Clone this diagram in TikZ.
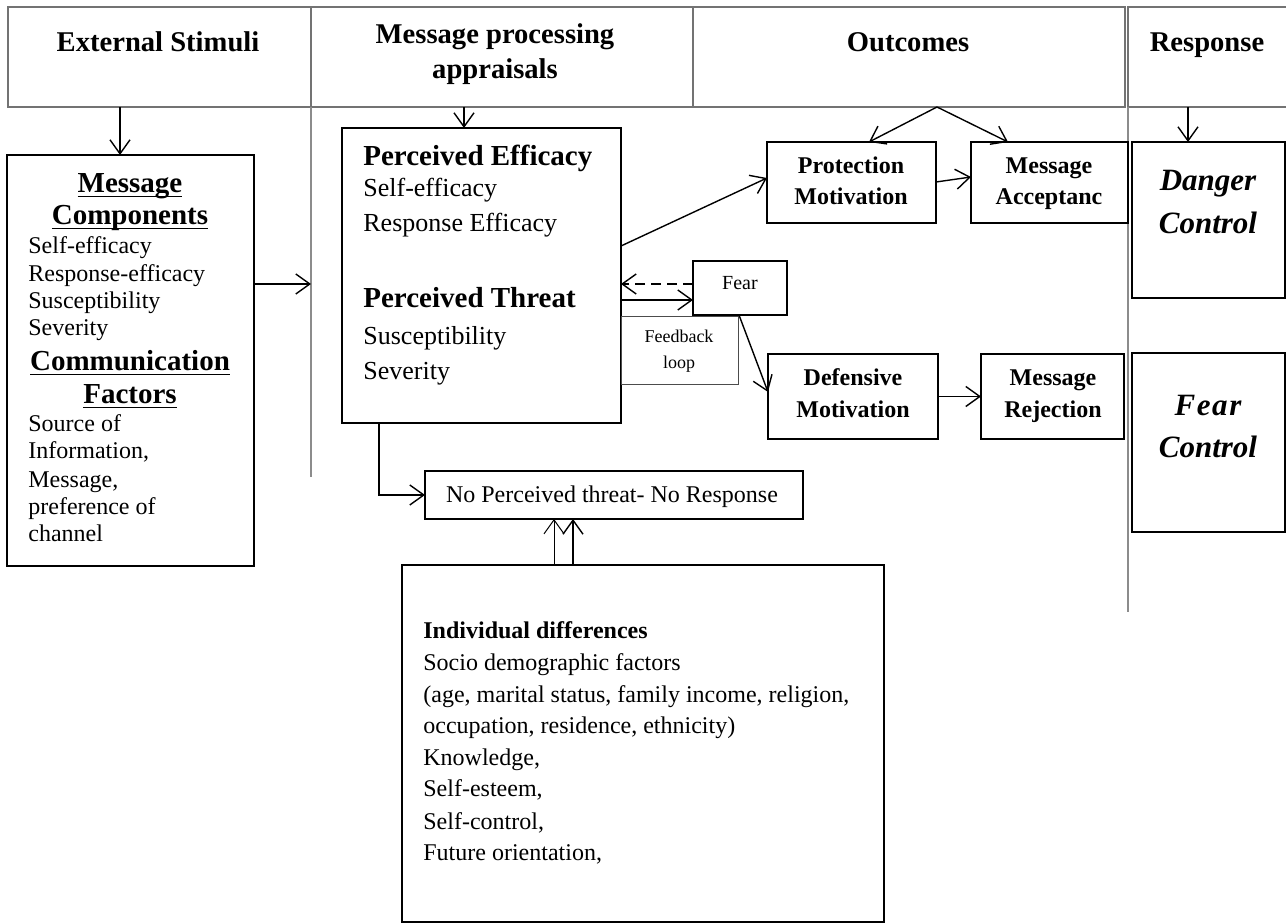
\documentclass[tikz,border=0pt]{standalone}
\usepackage{fontspec}
\setmainfont{Liberation Serif}
\usetikzlibrary{arrows.meta,calc}
\newcommand\myul[1]{\begingroup\setbox0\hbox{#1}\rlap{\rule[-2.6pt]{\wd0}{0.9pt}}\box0\endgroup}
\begin{document}
\begin{tikzpicture}[x=0.5pt,y=-0.5pt,
  box/.style={draw, line width=1pt, inner sep=0pt, outer sep=0pt},
  hbox/.style={draw=black!55, line width=0.6pt, inner sep=0pt, outer sep=0pt},
  fbbox/.style={draw=black!70, line width=0.5pt, inner sep=0pt, outer sep=0pt},
  gline/.style={draw=black!45, line width=0.8pt},
  arr/.style={-{Straight Barb[length=7pt,width=10pt]}, line width=0.7pt},
  hd/.style={inner sep=0pt, font=\bfseries\fontsize{14.3pt}{17pt}\selectfont, text height=10pt, text depth=3pt},
  bt/.style={inner sep=0pt, font=\bfseries\fontsize{14.5pt}{17pt}\selectfont, text height=10.2pt, text depth=3pt},
  rt/.style={inner sep=0pt, font=\fontsize{12pt}{14pt}\selectfont, text height=8.4pt, text depth=2.4pt},
  rtb/.style={inner sep=0pt, font=\fontsize{13pt}{15pt}\selectfont, text height=9.1pt, text depth=2.6pt},
  bx/.style={inner sep=0pt, font=\bfseries\fontsize{12pt}{14pt}\selectfont, text height=8.4pt, text depth=2.4pt},
  bi/.style={inner sep=0pt, font=\bfseries\itshape\fontsize{15.5pt}{18pt}\selectfont, text height=10.9pt, text depth=3.1pt},
  sm/.style={inner sep=0pt, font=\fontsize{10pt}{12pt}\selectfont, text height=7pt, text depth=2pt},
  xs/.style={inner sep=0pt, font=\fontsize{9pt}{11pt}\selectfont, text height=6.3pt, text depth=1.8pt}
]
\useasboundingbox (0,0) rectangle (1286,924);

% header row
\node[hbox, minimum width=151.5pt, minimum height=50pt] (h1) at (159.5,57) {};
\node[hbox, minimum width=191pt, minimum height=50pt] (h2) at (502,57) {};
\node[hbox, minimum width=216pt, minimum height=50pt] (h3) at (909,57) {};
\node[hbox, minimum width=81pt, minimum height=50pt] (h4) at (1209,57) {};
\node[hd] (h1t) at (158,45) {External Stimuli};
\node[hd] (h2ta) at (495,37) {Message processing};
\node[hd] (h2tb) at (495,72) {appraisals};
\node[hd] (h3t) at (908,45) {Outcomes};
\node[hd] (h4t) at (1207,45) {Response};

% gray column lines
\coordinate (g1top) at (311,107); \coordinate (g1bot) at (311,477);
\coordinate (g2top) at (1128,107); \coordinate (g2bot) at (1128,612);
\draw[gline] (g1top) -- (g1bot);
\draw[gline] (g2top) -- (g2bot);

% Message components box
\node[box, minimum width=123.5pt, minimum height=205.5pt] (mc) at (130.5,360.5) {};
\node[bt] (mct1) at (130,185) {\myul{Message}};
\node[bt] (mct2) at (130,217) {\myul{Components}};
\node[bt] (mct3) at (130,363) {\myul{Communication}};
\node[bt] (mct4) at (130,396) {\myul{Factors}};
\node[rt, anchor=west] (mcl1) at (28,248) {Self-efficacy};
\node[rt, anchor=west] (mcl2) at (28,276) {Response-efficacy};
\node[rt, anchor=west] (mcl3) at (28,303) {Susceptibility};
\node[rt, anchor=west] (mcl4) at (28,330) {Severity};
\node[rt, anchor=west] (mcl5) at (28,426) {Source of};
\node[rt, anchor=west] (mcl6) at (28,453) {Information,};
\node[rt, anchor=west] (mcl7) at (28,482) {Message,};
\node[rt, anchor=west] (mcl8) at (28,509) {preference of};
\node[rt, anchor=west] (mcl9) at (28,536) {channel};

% Perceived box
\node[box, minimum width=139.5pt, minimum height=147.5pt] (pe) at (481.5,275.5) {};
\node[bt, anchor=west] (pet1) at (363,158) {Perceived Efficacy};
\node[rtb, anchor=west] (pel1) at (363,190) {Self-efficacy};
\node[rtb, anchor=west] (pel2) at (363,225) {Response Efficacy};
\node[bt, anchor=west] (pet2) at (363,300) {Perceived Threat};
\node[rtb, anchor=west] (pel3) at (363,338) {Susceptibility};
\node[rtb, anchor=west] (pel4) at (363,373) {Severity};

% Outcome boxes
\node[box, minimum width=84.5pt, minimum height=40.5pt] (pm) at (851.5,182.5) {};
\node[bx] (pmt1) at (851,168) {Protection};
\node[bx] (pmt2) at (851,199) {Motivation};
\node[box, minimum width=78.5pt, minimum height=40.5pt] (ma) at (1049.5,182.5) {};
\node[bx] (mat1) at (1049,168) {Message};
\node[bx] (mat2) at (1049,199) {Acceptanc};
\node[box, minimum width=85pt, minimum height=42.5pt] (dm) at (853,396.5) {};
\node[bx] (dmt1) at (853,380) {Defensive};
\node[bx] (dmt2) at (853,412) {Motivation};
\node[box, minimum width=71.5pt, minimum height=42.5pt] (mr) at (1052.5,396.5) {};
\node[bx] (mrt1) at (1053,380) {Message};
\node[bx] (mrt2) at (1053,412) {Rejection};

% Fear and feedback
\node[box, minimum width=47pt, minimum height=27pt] (fear) at (740,288) {};
\node[sm] (feart) at (740,285) {Fear};
\node[fbbox, minimum width=58.5pt, minimum height=34pt] (fb) at (679.5,351) {};
\node[xs] (fbt1) at (679,338) {Feedback};
\node[xs] (fbt2) at (679,364) {loop};

% No perceived threat
\node[box, minimum width=189pt, minimum height=24pt] (npt) at (614,495) {};
\node[rt] (nptt) at (612,497) {No Perceived threat- No Response};

% Individual differences
\node[box, minimum width=241pt, minimum height=178.5pt] (ind) at (643,743.5) {};
\node[bx, anchor=west] (indt) at (423,633) {Individual differences};
\node[rt, anchor=west] (indl1) at (423,665) {Socio demographic factors};
\node[rt, anchor=west] (indl2) at (423,697) {(age, marital status, family income, religion,};
\node[rt, anchor=west] (indl3) at (423,728) {occupation, residence, ethnicity)};
\node[rt, anchor=west] (indl4) at (423,760) {Knowledge,};
\node[rt, anchor=west] (indl5) at (423,791) {Self-esteem,};
\node[rt, anchor=west] (indl6) at (423,823) {Self-control,};
\node[rt, anchor=west] (indl7) at (423,855) {Future orientation,};

% Response boxes
\node[box, minimum width=76.5pt, minimum height=78pt] (dc) at (1208.5,220) {};
\node[bi] (dct1) at (1208,183) {Danger};
\node[bi] (dct2) at (1208,226) {Control};
\node[box, minimum width=76.5pt, minimum height=89.5pt] (fc) at (1208.5,442.5) {};
\node[bi] (fct1) at (1208,408) {F\kern0.8pt e\kern0.8pt a\kern0.8pt r};
\node[bi] (fct2) at (1208,450) {Control};

% connectors
\coordinate (a1) at (120,107);
\draw[arr] (a1) -- (a1 |- mc.north);
\coordinate (a2) at (464,107);
\draw[arr] (a2) -- (a2 |- pe.north);
\coordinate (apex) at (937,107);
\draw[arr] (apex) -- ([xshift=8.75pt]pm.north);
\draw[arr] (apex) -- ([xshift=-20.75pt]ma.north);
\coordinate (a4) at (1188,107);
\draw[arr] (a4) -- (a4 |- dc.north);
\coordinate (l1) at (311,284);
\draw[arr] (l1 -| mc.east) -- (l1);
\draw[arr] ([yshift=14.75pt]pe.east) -- ([yshift=2.25pt]pm.west);
\draw[arr] ([yshift=-12.25pt]pe.east) -- ([yshift=-6pt]fear.west);
\draw[arr, dash pattern=on 5pt off 3pt] ([yshift=2pt]fear.west) -- ([yshift=-4.25pt]pe.east);
\draw[arr] ([xshift=-0.5pt]fear.south) -- ([yshift=2.25pt]dm.west);
\draw[arr] ([yshift=0.25pt]pm.east) -- ([yshift=2.75pt]ma.west);
\draw[arr] (dm.east) -- (mr.west);
\draw[arr] ([xshift=-51.25pt]pe.south) |- (npt.west);
\coordinate (c1) at (554,540);
\coordinate (c2) at (573,540);
\draw[arr, line width=0.5pt] (c1 |- ind.north) -- (c1 |- npt.south);
\draw[arr] (c2 |- ind.north) -- (c2 |- npt.south);
\end{tikzpicture}
\end{document}
